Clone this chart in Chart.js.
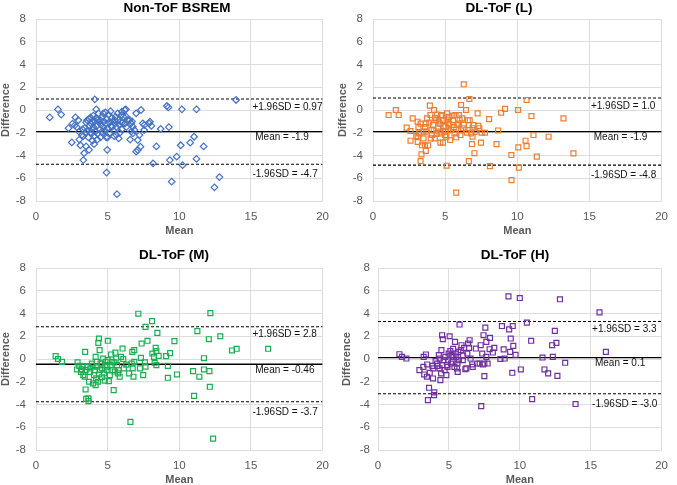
<!DOCTYPE html>
<html>
<head>
<meta charset="utf-8">
<script src="https://cdn.jsdelivr.net/npm/chart.js@4.4.0/dist/chart.umd.min.js"></script>
<style>
  html, body { margin: 0; padding: 0; background: #fff; }
  #wrap { position: relative; width: 677px; height: 485px; }
  .cell { position: absolute; }
</style>
</head>
<body>
<div id="wrap">
  <div class="cell" style="left:0;top:0;width:338px;height:242px"><canvas id="c1"></canvas></div>
  <div class="cell" style="left:337px;top:0;width:340px;height:242px"><canvas id="c2"></canvas></div>
  <div class="cell" style="left:0;top:242px;width:338px;height:243px"><canvas id="c3"></canvas></div>
  <div class="cell" style="left:337px;top:242px;width:340px;height:243px"><canvas id="c4"></canvas></div>
</div>
<script>
// === DATA ===
const panelTitles = ['Non-ToF BSREM', 'DL-ToF (L)', 'DL-ToF (M)', 'DL-ToF (H)'];
const xTicks = [0, 20, 5];      // min, max, step
const yTicks = [-8, 8, 2];

// [mean, difference]
const bsremPts = [
  [0.96,-0.65],[1.53,0.06],[1.76,-0.4],[2.27,-1.6],[2.5,-2.85],[2.75,-0.65],[2.55,-1.2],[2.7,-1.35],
  [2.85,-1.5],[2.95,-0.9],[3.0,-1.9],[3.02,-2.6],[3.1,-3.1],[3.2,-2.2],[3.3,-2.3],[3.36,-3.8],
  [3.3,-4.4],[3.5,-3.2],[3.7,-3.5],[3.57,-0.9],[3.8,-0.65],[3.9,-2.05],[4.1,0.94],[4.2,0.06],
  [4.05,-3.0],[4.28,-2.6],[3.4,-1.6],[3.5,-1.1],[3.6,-1.8],[3.65,-2.4],[3.7,-0.8],[3.75,-1.4],
  [3.8,-2.0],[3.85,-1.2],[3.9,-1.7],[3.95,-2.7],[4.0,-0.5],[4.0,-1.5],[4.05,-2.3],[4.1,-1.0],
  [4.15,-1.9],[4.2,-0.7],[4.25,-1.4],[4.3,-2.1],[4.35,-0.3],[4.4,-1.1],[4.45,-1.7],[4.5,-2.4],
  [4.5,-0.9],[4.55,-1.3],[4.6,-0.6],[4.65,-2.0],[4.7,-1.5],[4.75,-1.0],[4.8,-1.8],[4.85,-0.2],
  [4.9,-2.4],[4.9,-1.2],[4.95,-0.8],[5.0,-1.6],[5.05,-0.4],[5.1,-1.1],[5.15,-2.0],[5.2,-0.1],
  [5.25,-1.4],[5.3,-0.7],[5.35,-1.0],[5.4,-1.8],[5.45,-2.3],[5.5,-1.2],[5.55,-0.6],[5.6,-1.5],
  [5.7,-0.3],[5.75,-0.9],[5.8,-1.3],[5.85,-2.0],[5.9,-1.0],[5.99,-0.15],[6.0,-1.7],[6.1,-0.6],
  [6.2,-1.2],[6.27,0.06],[6.3,-1.5],[6.4,-0.9],[5.96,-0.44],[6.19,0.0],[6.3,-0.59],[6.53,-0.88],
  [6.64,-1.17],[6.76,-1.47],[6.64,-1.9],[6.76,-2.05],[6.87,-1.76],[6.99,-0.29],[7.1,-2.64],[7.22,-2.2],
  [7.33,0.0],[7.45,-1.17],[7.56,-1.32],[7.9,-1.17],[7.95,-1.03],[7.29,-3.23],[7.1,-3.52],[6.99,-3.66],
  [4.92,-5.5],[4.97,-3.5],[5.65,-7.4],[5.77,-2.5],[6.57,-2.6],[7.55,-1.76],[8.05,-1.4],[8.17,-4.7],
  [8.4,-3.2],[8.7,-1.67],[9.13,0.35],[9.24,0.23],[9.27,-1.5],[9.34,-4.4],[9.47,-6.3],[9.82,-4.1],
  [10.1,-3.1],[10.18,0.06],[10.23,-4.85],[10.76,-2.87],[11.03,-2.35],[11.2,0.06],[11.2,-4.3],[11.7,-3.2],
  [12.45,-6.8],[12.8,-5.9],[13.96,0.88],[4.3,-0.9],[5.0,-2.4],[5.3,-1.5],[5.6,-2.2],[4.7,-0.3],
  [3.9,-1.0],[3.45,-2.0],[3.25,-1.7],[4.6,-1.9],[5.5,-0.9],[6.0,-1.1],[6.7,-1.0]
];

const lowPts = [
  [1.08,-0.44],[1.58,0.0],[1.78,-0.44],[2.33,-1.55],[2.6,-1.85],[2.6,-2.7],[2.75,-0.73],[3.09,-1.03],
  [3.15,-1.5],[3.2,-2.05],[3.1,-2.4],[3.1,-2.8],[3.3,-4.5],[3.36,-3.9],[3.4,-3.1],[3.5,-2.5],
  [3.5,-1.9],[3.6,-1.5],[3.66,-1.2],[3.66,-3.6],[3.6,-3.1],[3.82,-3.1],[3.75,-0.73],[3.94,0.38],
  [3.98,-0.44],[4.05,-1.75],[4.1,-2.2],[4.16,-1.3],[4.23,0.0],[4.28,-2.5],[4.39,-0.9],[4.5,-1.6],
  [4.62,-1.2],[4.74,-2.05],[4.8,-0.44],[4.85,-0.9],[4.67,-2.87],[4.85,-2.87],[4.97,-1.9],[5.03,-1.47],
  [5.08,-2.35],[5.13,-0.3],[5.2,-1.17],[5.26,-0.6],[5.1,-4.9],[5.35,-2.64],[5.42,-1.76],[5.54,-0.88],
  [5.65,-2.05],[5.72,-0.44],[5.77,-2.4],[5.8,-1.32],[5.77,-7.27],[5.95,-0.44],[6.0,-0.88],[6.06,-2.2],
  [6.1,0.44],[6.18,-0.73],[6.22,-1.6],[6.29,2.26],[6.45,0.0],[6.57,-0.88],[6.64,-1.32],[6.68,0.97],
  [6.68,-1.76],[6.64,-4.5],[6.8,-2.05],[6.86,-2.99],[6.9,-2.35],[6.96,-1.32],[7.03,-3.8],[7.25,-0.3],
  [7.3,-1.4],[7.37,-1.6],[7.48,-2.87],[7.53,-2.0],[7.76,-2.0],[8.05,-0.8],[8.1,-4.93],[8.56,-3.0],
  [8.67,-1.8],[8.88,-0.24],[9.15,0.1],[9.59,-3.96],[9.6,-6.16],[10.05,0.0],[10.07,-3.28],[10.11,-5.07],
  [10.57,-2.7],[10.64,-3.17],[10.64,0.88],[10.98,-0.53],[11.12,-2.2],[11.35,-4.1],[12.17,-2.35],[13.2,-0.73],
  [13.89,-3.81],[3.7,-1.9],[3.9,-1.1],[4.0,-2.5],[4.2,-1.8],[4.3,-0.7],[4.4,-2.1],[4.55,-1.0],
  [4.6,-1.9],[4.7,-0.5],[4.9,-1.4],[5.0,-2.2],[5.1,-0.9],[5.2,-1.8],[5.3,-1.2],[5.5,-0.5],
  [5.6,-1.5],[5.9,-1.2],[6.1,-1.8],[6.3,-1.3],[6.5,-2.0],[6.7,-0.9],[6.9,-1.6],[7.1,-1.9],
  [3.3,-1.2],[3.0,-2.3],[4.45,-0.4]
];

const midPts = [
  [1.37,0.25],[1.53,0.0],[1.81,-0.25],[2.9,-0.3],[2.86,-0.92],[3.02,-0.6],[3.14,-1.13],[3.25,-0.68],
  [3.3,-1.42],[3.4,-1.56],[3.46,-0.98],[3.43,0.63],[3.46,-2.68],[3.5,-3.5],[3.66,-3.46],[3.66,-3.7],
  [3.7,-2.0],[3.75,-1.13],[3.8,-0.83],[3.9,-0.4],[3.98,-2.15],[4.05,-1.42],[4.1,-0.98],[4.16,-2.3],
  [4.2,-1.7],[4.23,-0.68],[4.16,0.19],[4.25,-0.25],[4.32,-2.0],[4.35,1.42],[4.39,1.8],[4.44,0.78],
  [4.39,-1.36],[4.46,-0.98],[4.5,-0.4],[4.62,-0.83],[4.69,0.04],[4.74,-1.27],[4.8,-0.54],[4.85,-0.25],
  [4.92,-0.98],[4.97,-0.68],[5.01,1.6],[5.08,-1.95],[5.15,-1.42],[5.2,-0.54],[5.24,0.4],[5.3,-0.25],
  [5.35,-0.98],[5.42,-2.74],[5.47,-0.3],[5.54,0.57],[5.6,0.04],[5.65,-0.54],[5.72,-1.27],[5.77,-0.98],
  [5.84,-1.56],[5.93,0.19],[6.04,0.92],[6.09,0.0],[6.13,-0.83],[6.5,-1.27],[6.59,-5.53],[6.68,-0.4],
  [6.72,0.63],[6.8,-1.56],[6.86,-0.25],[6.75,-0.83],[6.86,0.78],[7.14,3.98],[7.25,-0.83],[7.32,0.1],
  [7.37,1.36],[7.48,-1.42],[7.6,-0.3],[7.64,-0.68],[7.64,2.82],[7.78,1.6],[8.1,3.33],[8.12,0.48],
  [8.24,0.19],[8.28,-0.33],[8.35,0.98],[8.4,0.7],[8.4,-0.54],[8.47,2.3],[8.56,0.28],[9.08,0.25],
  [9.2,-0.6],[9.2,-1.65],[9.36,0.51],[9.66,1.57],[9.84,-1.36],[10.96,-1.07],[11.03,-3.24],[11.26,2.45],
  [11.4,-1.56],[11.72,0.07],[11.72,-0.92],[12.06,1.74],[12.1,-1.07],[12.13,-2.44],[12.17,4.03],[12.36,-7.0],
  [12.86,2.0],[13.68,0.75],[14.0,0.9],[16.2,0.9],[3.6,-0.7],[4.0,-0.6],[4.6,-1.6],[5.0,-0.1],
  [5.5,-1.1],[6.3,-0.5],[3.2,-0.9],[4.8,-1.9]
];

const highPts = [
  [1.51,0.42],[1.69,0.19],[2.0,0.04],[2.92,-0.98],[3.2,-0.69],[3.22,0.19],[3.26,-1.36],[3.38,0.4],
  [3.45,-1.56],[3.47,-0.48],[3.52,-3.61],[3.6,-2.53],[3.65,-1.21],[3.84,-0.6],[3.88,-1.71],[3.9,-0.83],
  [3.95,-3.17],[3.97,-2.94],[4.06,-0.19],[4.17,-0.4],[4.29,0.34],[4.34,-0.83],[4.36,0.04],[4.4,-1.86],
  [4.45,-1.27],[4.47,0.78],[4.52,2.09],[4.57,1.74],[4.52,-0.54],[4.63,-0.1],[4.7,-0.98],[4.75,0.19],
  [4.82,-1.42],[4.86,-0.54],[4.93,-0.1],[4.98,0.48],[5.05,2.0],[5.1,0.69],[5.14,-0.4],[5.2,0.34],
  [5.25,-0.25],[5.32,0.19],[5.39,-0.69],[5.43,1.5],[5.48,0.48],[5.52,0.19],[5.57,-0.83],[5.62,-1.13],
  [5.66,0.63],[5.7,-0.1],[5.75,3.03],[5.84,0.78],[5.89,1.21],[5.98,-0.1],[6.07,0.98],[6.16,-0.9],
  [6.23,-0.83],[6.3,0.48],[6.35,1.36],[6.42,0.98],[6.46,1.65],[6.53,0.04],[6.64,-0.48],[6.68,-0.69],
  [6.9,0.92],[7.0,-0.4],[7.17,-0.4],[7.24,1.21],[7.28,-4.14],[7.35,0.48],[7.4,-0.48],[7.44,2.09],
  [7.5,-0.4],[7.57,2.76],[7.5,-1.5],[7.64,1.5],[7.64,0.19],[7.73,-0.4],[7.87,0.86],[7.9,1.86],
  [8.1,0.57],[8.2,0.98],[8.63,0.0],[8.74,2.9],[8.86,0.84],[8.93,0.04],[9.2,5.5],[9.25,2.6],
  [9.32,0.63],[9.36,1.8],[9.47,-1.21],[9.5,2.9],[9.54,1.16],[9.7,0.37],[10.0,5.36],[10.07,-0.92],
  [10.5,3.2],[10.8,1.6],[10.87,-3.53],[11.6,0.13],[11.74,-0.92],[12.0,-1.27],[12.28,1.21],[12.33,0.19],
  [12.47,2.47],[12.58,1.42],[12.65,-1.48],[12.83,5.25],[13.2,-0.33],[13.93,-3.96],[15.62,4.1],[16.07,0.63],
  [4.9,-0.7],[5.3,0.9],[6.0,0.3],[4.2,-0.6],[5.6,-0.4]
];

// upper limit, mean, lower limit
const bsremLimits = [0.97, -1.9, -4.77];
const lowLimits = [1.05, -1.9, -4.85];
const midLimits = [2.84, -0.46, -3.76];
const highLimits = [3.3, 0.12, -3.06];

const bsremTexts = ['+1.96SD = 0.97', 'Mean = -1.9', '-1.96SD = -4.7'];
const lowTexts = ['+1.96SD = 1.0', 'Mean = -1.9', '-1.96SD = -4.8'];
const midTexts = ['+1.96SD = 2.8', 'Mean = -0.46', '-1.96SD = -3.7'];
const highTexts = ['+1.96SD = 3.3', 'Mean = 0.1', '-1.96SD = -3.0'];

// === STYLE ===
const FONT = '"Liberation Sans", Arial, Helvetica, sans-serif';
const GRID = '#dddddd';
const TICK = '#595959';

// Titre + étiquettes des lignes
const bandLabels = {
  id: 'bandLabels',
  afterDatasetsDraw(chart, args, opts) {
    const { ctx, scales: { x, y } } = chart;
    ctx.save();
    ctx.fillStyle = '#111';
    ctx.textBaseline = 'middle';
    ctx.textAlign = 'left';
    ctx.font = '10px ' + FONT;
    const xs = [15.1, 15.3, 15.1];
    const dy = [8, 6, 10];
    opts.limits.forEach((v, i) => {
      ctx.fillText(opts.texts[i], x.getPixelForValue(xs[i]), y.getPixelForValue(v) + dy[i]);
    });
    ctx.textAlign = 'center';
    ctx.fillStyle = '#000';
    ctx.font = 'bold 13.5px ' + FONT;
    ctx.fillText(opts.title, opts.titleX, opts.titleY);
    ctx.restore();
  }
};

function limitLine(v, dashed) {
  return {
    type: 'line',
    data: [{ x: xTicks[0], y: v }, { x: xTicks[1], y: v }],
    borderColor: '#000',
    borderWidth: dashed ? 1.1 : 1.4,
    borderDash: dashed ? [3, 2] : [],
    pointRadius: 0,
    fill: false
  };
}

function renderPanel(cfg) {
  const ctx = document.getElementById(cfg.id).getContext('2d');
  new Chart(ctx, {
    type: 'scatter',
    data: {
      datasets: [
        {
          data: cfg.pts.map(p => ({ x: p[0], y: p[1] })),
          pointStyle: cfg.marker,
          pointRadius: cfg.marker === 'rectRot' ? 3.3 : 3.5,
          pointBorderWidth: 1.2,
          pointBorderColor: cfg.color,
          pointBackgroundColor: 'rgba(0,0,0,0)'
        },
        limitLine(cfg.limits[0], true),
        limitLine(cfg.limits[1], false),
        limitLine(cfg.limits[2], true)
      ]
    },
    options: {
      responsive: true,
      maintainAspectRatio: false,
      animation: false,
      layout: { padding: { top: cfg.padTop, right: cfg.padRight, left: 0, bottom: 0 } },
      plugins: {
        legend: { display: false },
        tooltip: { enabled: false },
        bandLabels: { limits: cfg.limits, texts: cfg.texts, title: cfg.title, titleX: cfg.titleX, titleY: cfg.titleY }
      },
      scales: {
        x: {
          type: 'linear',
          min: xTicks[0], max: xTicks[1],
          afterFit: s => { s.height = cfg.xAxisH; },
          ticks: { stepSize: xTicks[2], color: TICK, padding: 9, font: { family: FONT, size: 11.5 } },
          grid: { color: GRID, lineWidth: 1, drawTicks: false },
          border: { display: false },
          title: { display: true, text: 'Mean', color: TICK, padding: { top: 0, bottom: cfg.xTitlePad }, font: { family: FONT, size: 11, weight: 'bold', lineHeight: 1 } }
        },
        y: {
          type: 'linear',
          min: yTicks[0], max: yTicks[1],
          afterFit: s => { s.width = cfg.yAxisW; },
          ticks: { stepSize: yTicks[2], color: TICK, padding: cfg.yTickPad, font: { family: FONT, size: 11.5 } },
          grid: { color: GRID, lineWidth: 1, drawTicks: false },
          border: { display: false },
          title: { display: true, text: 'Difference', color: TICK, padding: { top: cfg.yTitlePad, bottom: 0 }, font: { family: FONT, size: 11, weight: 'bold', lineHeight: 1 } }
        }
      }
    },
    plugins: [bandLabels]
  });
}

renderPanel({ id: 'c1', title: panelTitles[0], pts: bsremPts, limits: bsremLimits, texts: bsremTexts,
  color: '#4472C4', marker: 'rectRot', padTop: 19, padRight: 11, yAxisW: 36, xAxisH: 41,
  yTickPad: 10, yTitlePad: 0, xTitlePad: 6, titleX: 177, titleY: 8 });
renderPanel({ id: 'c2', title: panelTitles[1], pts: lowPts, limits: lowLimits, texts: lowTexts,
  color: '#ED7D31', marker: 'rect', padTop: 19, padRight: 13, yAxisW: 36, xAxisH: 41,
  yTickPad: 10, yTitlePad: 0, xTitlePad: 6, titleX: 162, titleY: 8 });
renderPanel({ id: 'c3', title: panelTitles[2], pts: midPts, limits: midLimits, texts: midTexts,
  color: '#1BAE50', marker: 'rect', padTop: 26, padRight: 11, yAxisW: 36, xAxisH: 35,
  yTickPad: 10, yTitlePad: 0, xTitlePad: 0, titleX: 174, titleY: 13 });
renderPanel({ id: 'c4', title: panelTitles[3], pts: highPts, limits: highLimits, texts: highTexts,
  color: '#7030A0', marker: 'rect', padTop: 26, padRight: 7, yAxisW: 41, xAxisH: 35,
  yTickPad: 8, yTitlePad: 4, xTitlePad: 0, titleX: 178, titleY: 13 });
</script>
</body>
</html>
